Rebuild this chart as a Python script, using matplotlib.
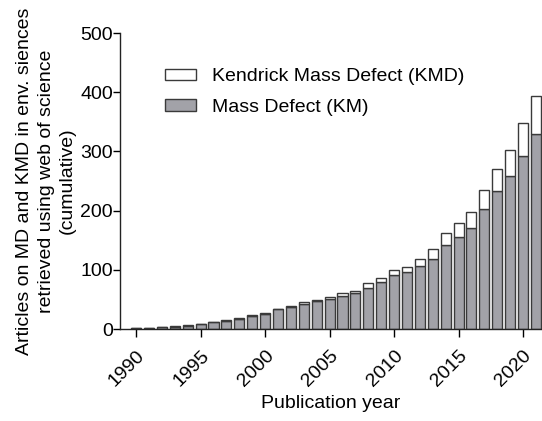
import matplotlib
matplotlib.use("Agg")
import matplotlib.pyplot as plt
from matplotlib.patches import Patch
import numpy as np

years = list(range(1990, 2022))
md = [1, 2, 4, 4, 5, 8, 11, 14, 17, 22, 26, 33, 37, 43, 47, 51, 56, 61, 70, 79,
      92, 97, 107, 119, 142, 155, 171, 203, 233, 258, 292, 329]
total = [1, 2, 4, 5, 6, 9, 12, 15, 18, 23, 27, 34, 39, 45, 49, 54, 60, 65, 77, 86,
         100, 105, 119, 135, 162, 179, 198, 235, 271, 303, 348, 393]
kmd = [t - m for t, m in zip(total, md)]
xticks = [1990, 1995, 2000, 2005, 2010, 2015, 2020]
yticks = [0, 100, 200, 300, 400, 500]

plt.rcParams['font.family'] = ['Liberation Sans', 'DejaVu Sans']

fig = plt.figure(figsize=(5.42, 4.21), dpi=100)
ax = fig.add_axes([0.2214, 0.2185, 0.7786, 0.7031])

grey = '#a2a2a8'
edge = '#3a3a3a'
ax.bar(years, md, width=0.78, color=grey, edgecolor=edge, linewidth=1.0, zorder=2)
ax.bar(years, kmd, bottom=md, width=0.78, color='white', edgecolor=edge, linewidth=1.0, zorder=2)

fs = 14
ax.set_xlim(1988.75, 2021.47)
ax.set_ylim(0, 500)
ax.set_yticks(yticks)
ax.set_xticks(xticks)
ax.set_xticklabels([str(x) for x in xticks], rotation=45, ha='right', va='top',
                   rotation_mode='anchor', fontsize=fs)
ax.tick_params(axis='y', labelsize=fs, length=5, width=1, direction='out', pad=0)
ax.tick_params(axis='x', length=6, width=1, direction='out', pad=7)
for s in ['top', 'right']:
    ax.spines[s].set_visible(False)
for s in ['left', 'bottom']:
    ax.spines[s].set_linewidth(1.0)
    ax.spines[s].set_color('#222222')

ax.set_xlabel('Publication year', fontsize=fs, labelpad=4)
ax.set_ylabel('Articles on MD and KMD in env. siences\nretrieved using web of science\n(cumulative)',
              fontsize=fs, labelpad=3, linespacing=1.35)

handles = [Patch(facecolor='white', edgecolor=edge, linewidth=1.0),
           Patch(facecolor=grey, edgecolor=edge, linewidth=1.0)]
ax.legend(handles, ['Kendrick Mass Defect (KMD)', 'Mass Defect (KM)'],
          loc='upper left', bbox_to_anchor=(0.064, 0.94), frameon=False,
          fontsize=fs, handlelength=1.6, handleheight=0.5, labelspacing=0.7,
          handletextpad=0.85)

fig.savefig('out.png', dpi=100)
